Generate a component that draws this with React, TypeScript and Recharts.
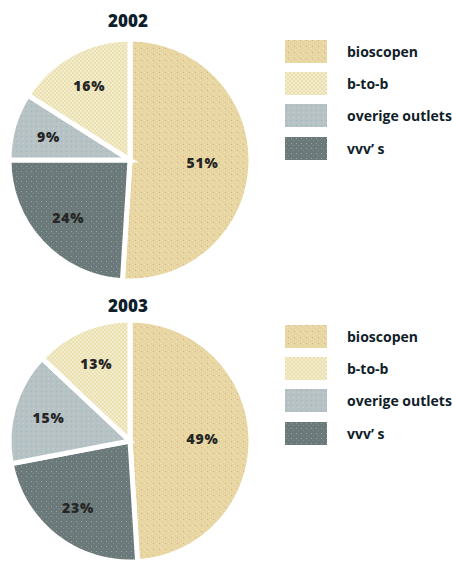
import React from 'react';
import { PieChart, Pie, Cell, Legend } from 'recharts';

// Legend order
const CATEGORIES = ['bioscopen', 'b-to-b', 'overige outlets', 'vvv’ s'];
const VALUES_2002 = [51, 16, 9, 24];
const VALUES_2003 = [49, 13, 15, 23];
// clockwise order of slices from 12 o'clock (indices into CATEGORIES)
const SLICE_ORDER = [0, 3, 2, 1];
const YEARS = ['2002', '2003'];

const FILLS = ['url(#pBio)', 'url(#pB2b)', 'url(#pOver)', 'url(#pVvv)'];

const FONT = '"Open Sans", "Noto Sans", sans-serif';
const RADIAN = Math.PI / 180;

function buildData(values: number[]) {
  return SLICE_ORDER.map((i) => ({ name: CATEGORIES[i], value: values[i], fill: FILLS[i] }));
}

const renderLabel = (props: any) => {
  const { cx, cy, midAngle, outerRadius, percent, value } = props;
  const r = outerRadius * (percent > 0.4 ? 0.6 : 0.7);
  const x = cx + r * Math.cos(-midAngle * RADIAN);
  const y = cy + r * Math.sin(-midAngle * RADIAN);
  return (
    <text
      x={x}
      y={y}
      textAnchor="middle"
      dominantBaseline="central"
      fill="#262626"
      fontFamily={FONT}
      fontWeight={800}
      fontSize={14}
      letterSpacing={0.8}
    >
      {`${value}%`}
    </text>
  );
};

const LegendContent = (props: any) => {
  const payload: any[] = props.payload || [];
  const sorted = [...payload].sort(
    (a, b) => CATEGORIES.indexOf(a.value) - CATEGORIES.indexOf(b.value)
  );
  return (
    <div>
      {sorted.map((entry) => {
        const idx = CATEGORIES.indexOf(entry.value);
        return (
          <div
            key={entry.value}
            style={{ display: 'flex', alignItems: 'center', height: 32.3 }}
          >
            <svg width={42} height={23} style={{ display: 'block' }}>
              <rect width={42} height={23} fill={FILLS[idx]} />
            </svg>
            <span
              style={{
                marginLeft: 20,
                fontFamily: FONT,
                fontWeight: 700,
                fontSize: 14,
                color: '#111e29',
                whiteSpace: 'nowrap',
              }}
            >
              {entry.value}
            </span>
          </div>
        );
      })}
    </div>
  );
};

function YearPie({ year, values, top, height, cy }: any) {
  const data = buildData(values);
  return (
    <div style={{ position: 'absolute', left: 0, top, width: 452, height }}>
      <div
        style={{
          position: 'absolute',
          left: 78,
          width: 100,
          top: 10,
          textAlign: 'center',
          fontFamily: FONT,
          fontWeight: 800,
          fontSize: 17,
          color: '#0f1f2b',
          lineHeight: '22px',
          zIndex: 2,
        }}
      >
        {year}
      </div>
      <PieChart width={452} height={height} margin={{ top: 0, right: 0, bottom: 0, left: 0 }}>
        <Pie
          data={data}
          dataKey="value"
          nameKey="name"
          cx={130}
          cy={cy}
          outerRadius={121}
          startAngle={90}
          endAngle={-270}
          stroke="#ffffff"
          strokeWidth={5}
          label={renderLabel}
          labelLine={false}
          isAnimationActive={false}
        >
          {data.map((d) => (
            <Cell key={d.name} fill={d.fill} />
          ))}
        </Pie>
        <Legend
          layout="vertical"
          verticalAlign="top"
          align="right"
          content={<LegendContent />}
          wrapperStyle={{ position: 'absolute', left: 285, top: 35, width: 167 }}
        />
      </PieChart>
    </div>
  );
}

export default function App() {
  return (
    <div style={{ position: 'absolute', left: 0, top: 0, width: 452, height: 561, background: '#fff', overflow: 'hidden' }}>
      <svg width={0} height={0} style={{ position: 'absolute' }}>
        <defs>
          <pattern id="pBio" width="6" height="6" patternUnits="userSpaceOnUse">
            <rect width="6" height="6" fill="#e8d6a2" />
            <rect x="0" y="0" width="1" height="1" fill="#f0e3b8" />
            <rect x="2" y="2" width="1" height="1" fill="#f0e3b8" />
            <rect x="4" y="4" width="1" height="1" fill="#f0e3b8" />
            <rect x="3" y="0" width="1" height="1" fill="#e2ad98" />
          </pattern>
          <pattern id="pB2b" width="4" height="4" patternUnits="userSpaceOnUse">
            <rect width="4" height="4" fill="#f3ecca" />
            <rect x="0" y="0" width="2" height="2" fill="#ebe0b2" />
            <rect x="2" y="2" width="2" height="2" fill="#ebe0b2" />
          </pattern>
          <pattern id="pOver" width="5" height="5" patternUnits="userSpaceOnUse">
            <rect width="5" height="5" fill="#b7c2c5" />
            <rect x="1" y="1" width="1" height="1" fill="#98b5c6" />
            <rect x="3" y="3" width="1" height="1" fill="#c9cfcc" />
          </pattern>
          <pattern id="pVvv" width="5" height="5" patternUnits="userSpaceOnUse">
            <rect width="5" height="5" fill="#6c797a" />
            <rect x="1" y="1" width="1" height="1" fill="#8ea896" />
            <rect x="3" y="3" width="1" height="1" fill="#7d8c8e" />
          </pattern>
        </defs>
      </svg>
      <YearPie year={YEARS[0]} values={VALUES_2002} top={0} height={285} cy={160} />
      <YearPie year={YEARS[1]} values={VALUES_2003} top={285} height={276} cy={156} />
    </div>
  );
}
